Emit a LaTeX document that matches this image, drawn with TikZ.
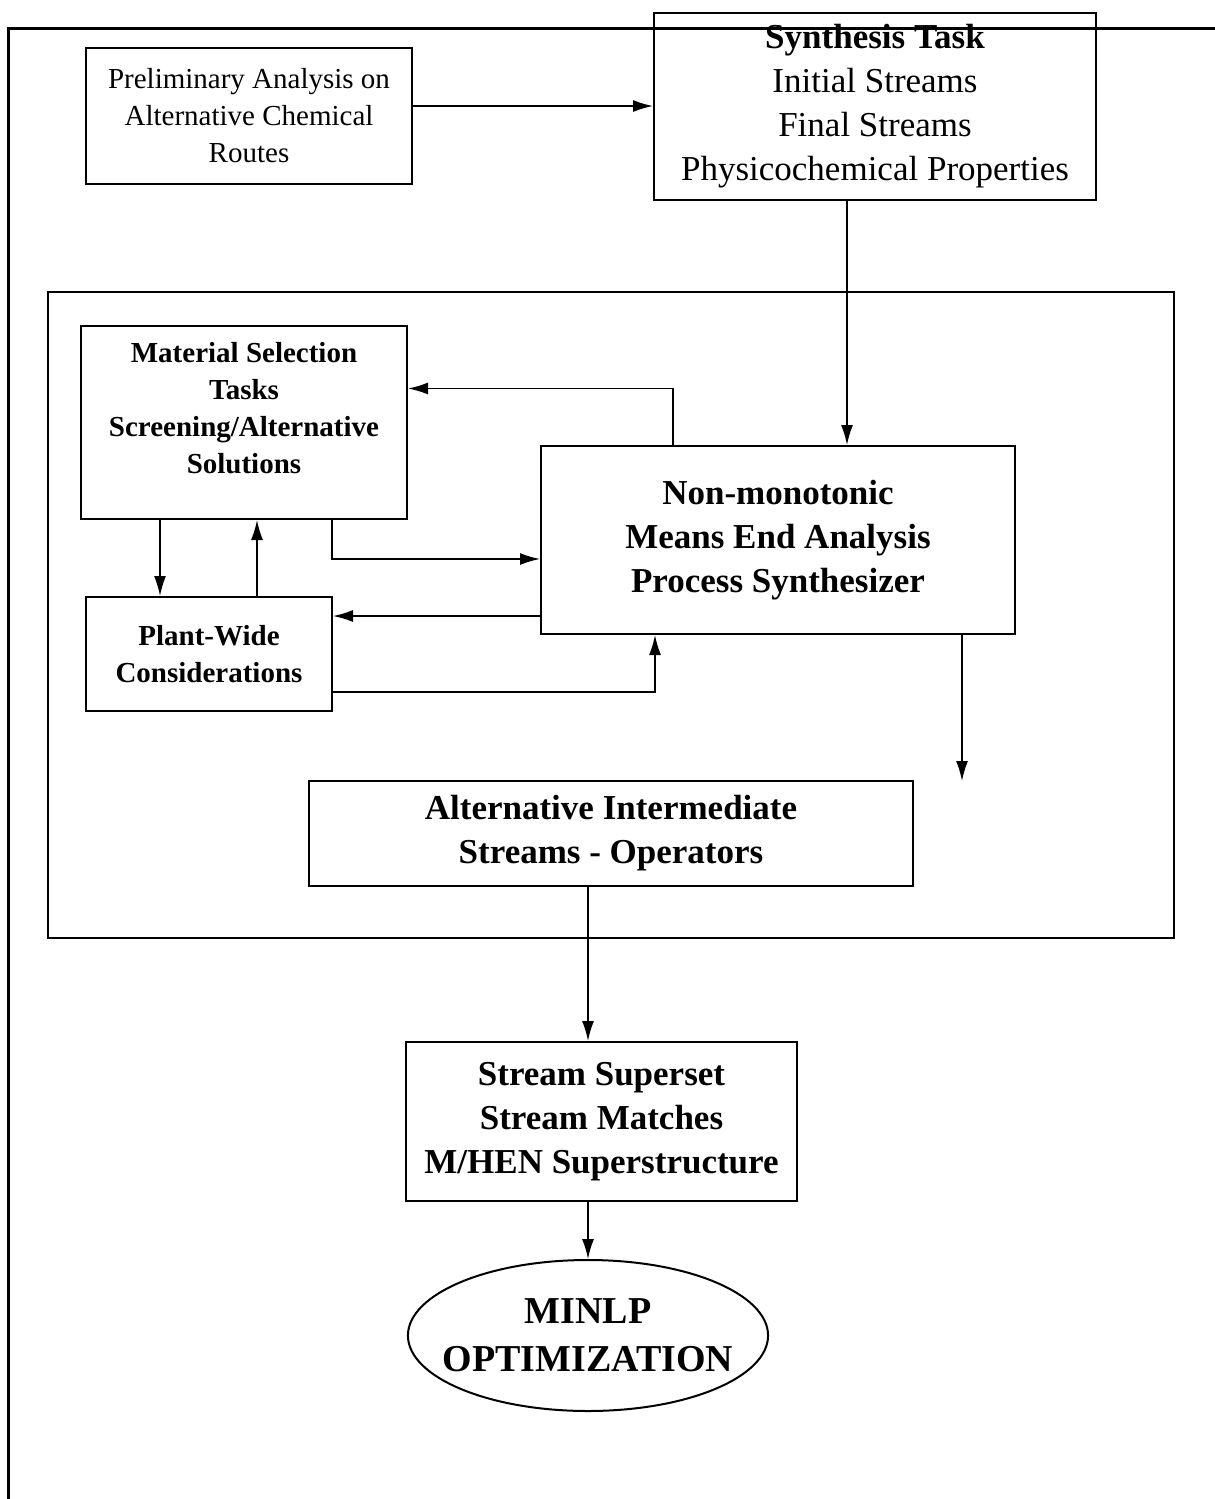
\documentclass[tikz,border=0pt]{standalone}
\usepackage{fontspec}
\setmainfont{Liberation Serif}
\usepackage{tikz}
\usetikzlibrary{calc,arrows.meta}
\usetikzlibrary{shapes.geometric}
\usetikzlibrary{positioning}

\begin{document}
\begin{tikzpicture}[
    x=0.5pt, y=-0.5pt,
    >={Latex[length=10pt,width=6pt]},
    box/.style={draw=black, line width=1pt, align=center, inner sep=2pt, font=\fontsize{14.5}{18.5}\selectfont},
    bigbox/.style={draw=black, line width=1pt, align=center, inner sep=2pt, font=\fontsize{17.5}{22}\selectfont},
    boldbox/.style={box, font=\fontsize{14.5}{18.5}\selectfont\bfseries},
    bigbold/.style={bigbox, font=\fontsize{17.5}{22}\selectfont\bfseries},
    frame/.style={draw=black, line width=1pt, inner sep=0pt},
    goal/.style={draw=black, line width=1pt, ellipse, inner sep=-9pt, align=center, font=\fontsize{19}{24}\selectfont\bfseries},
    conn/.style={->, draw=black, line width=0.8pt}
]
\useasboundingbox (0,0) rectangle (1215,1499);

% =========================================================================
% PAGE FRAME
% =========================================================================
\draw[line width=1.5pt] (1215,28) -- (8,28) -- (8,1499);

% =========================================================================
% TOP: PRELIMINARY ANALYSIS + SYNTHESIS TASK
% =========================================================================
\node[box, minimum width=163pt, minimum height=68pt] (prelim) at (249,116)
    {Preliminary Analysis on\\Alternative Chemical\\Routes};
\node[bigbox, minimum width=221pt, minimum height=93.5pt] (synth) at (875,106)
    {\textbf{Synthesis Task}\\Initial Streams\\Final Streams\\Physicochemical Properties};

\draw[conn] ([yshift=5pt]prelim.east) -- ([yshift=5pt]prelim.east -| synth.west);

% =========================================================================
% MEANS END ANALYSIS LOOP (big frame)
% =========================================================================
\node[frame, minimum width=563pt, minimum height=323pt] (loop) at (611,615) {};

\node[boldbox, minimum width=163pt, minimum height=96.5pt] (matsel) at (244,422.5)
    {Material Selection\\Tasks\\Screening/Alternative\\Solutions\\[-4pt]\mbox{}};
\node[bigbold, minimum width=237pt, minimum height=94pt] (nmea) at (778,540)
    {Non-monotonic\\Means End Analysis\\Process Synthesizer};
\node[boldbox, minimum width=123pt, minimum height=57pt] (plant) at (209,654)
    {Plant-Wide\\Considerations};
\node[bigbold, minimum width=302pt, minimum height=52.5pt] (altstr) at (611,833.5)
    {Alternative Intermediate\\Streams - Operators};
\coordinate (nmeaout) at (962,781);

\draw[conn] ([xshift=-14pt]synth.south) -- ([xshift=-14pt]synth.south |- nmea.north);
\draw[conn] ([xshift=-52.5pt]nmea.north) |- ([yshift=17pt]matsel.east);
\draw[conn] ([xshift=-42pt]matsel.south) -- ([xshift=-42pt]matsel.south |- plant.north);
\draw[conn] ([xshift=24pt]plant.north) -- ([xshift=24pt]plant.north |- matsel.south);
\draw[conn] ([xshift=44pt]matsel.south) |- ([yshift=-9.5pt]nmea.west);
\draw[conn] ([yshift=-38pt]nmea.west) -- ([yshift=-38pt]nmea.west -| plant.east);
\draw[conn] ([yshift=-19pt]plant.east) -| ([xshift=-61.5pt]nmea.south);
\draw[conn] (nmea.south -| nmeaout) -- (nmeaout);

% =========================================================================
% BOTTOM: SUPERSTRUCTURE + MINLP
% =========================================================================
\node[bigbold, minimum width=195.5pt, minimum height=79.5pt] (superset) at (601.5,1121.5)
    {Stream Superset\\Stream Matches\\M/HEN Superstructure};
\node[goal, minimum width=180pt, minimum height=75.5pt] (minlp) at (588,1335.5)
    {MINLP\\OPTIMIZATION};

\draw[conn] (altstr.south -| minlp.north) -- (superset.north -| minlp.north);
\draw[conn] (superset.south -| minlp.north) -- (minlp.north);

\end{tikzpicture}
\end{document}
